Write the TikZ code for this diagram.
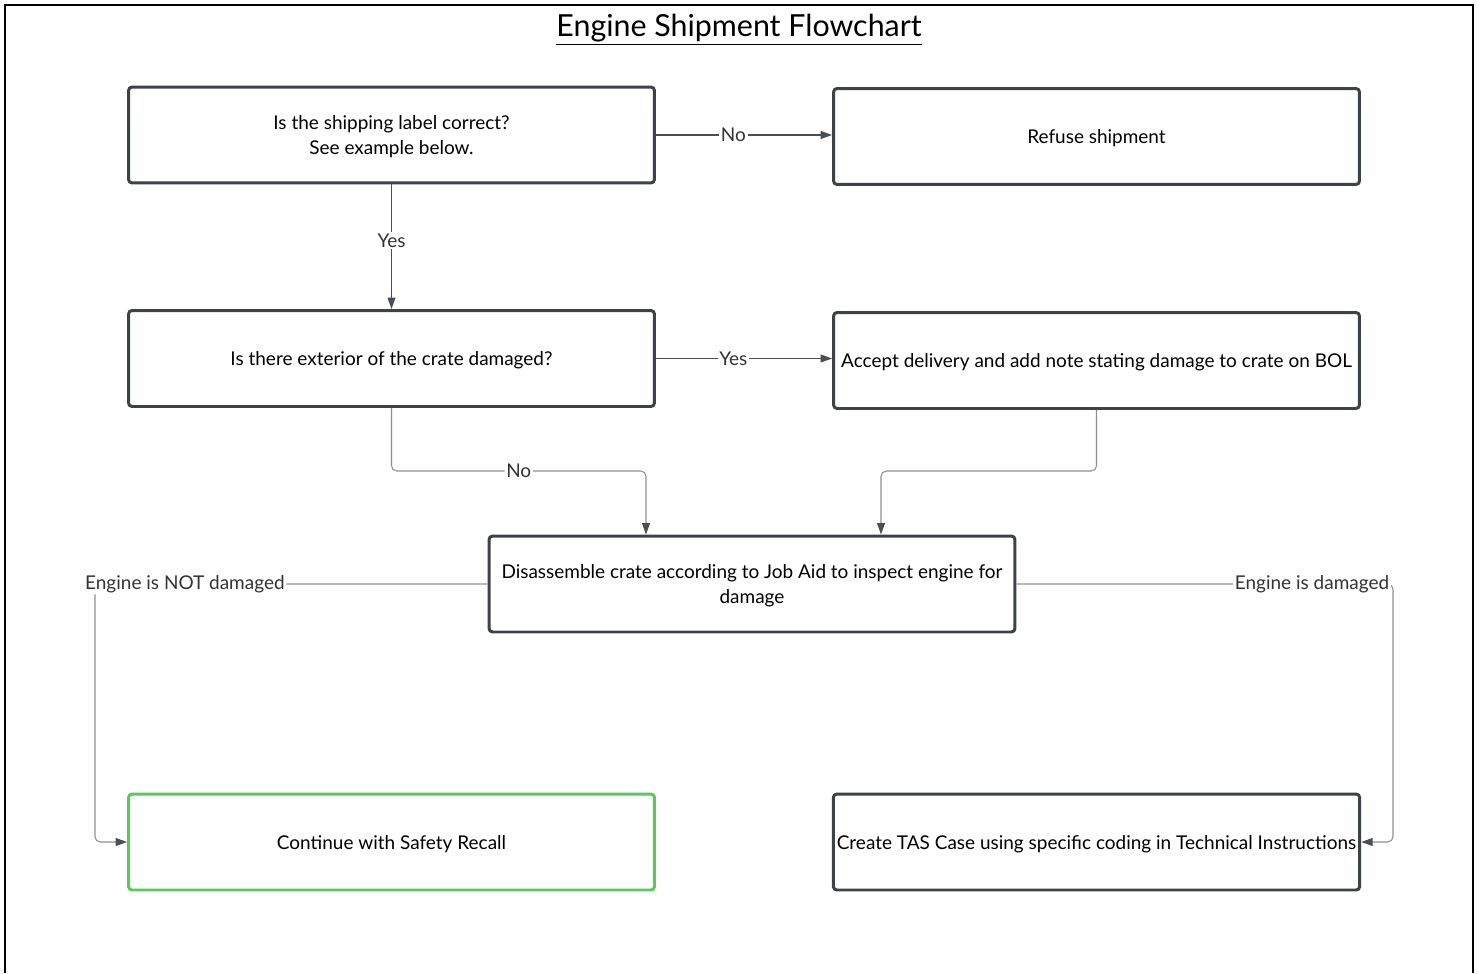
\documentclass[tikz,border=0pt]{standalone}
\usepackage{fontspec}
\setmainfont{Lato}
\usepackage{tikz}
\usetikzlibrary{arrows.meta}

\definecolor{boxline}{HTML}{3D424A}
\definecolor{darkline}{HTML}{4A4F57}
\definecolor{softline}{HTML}{8E9096}
\definecolor{okgreen}{HTML}{5BC85B}

\begin{document}
\begin{tikzpicture}[x=0.02cm, y=-0.02cm,
    box/.style={draw=boxline, line width=1.7pt, rounded corners=2pt, minimum width=10.52cm, minimum height=1.92cm, align=center, font=\fontsize{10.8}{14.2}\selectfont, inner sep=2pt, text depth=-1.5pt},
    link/.style={draw=darkline, line width=0.6pt, -{Triangle[length=6.5pt,width=4.5pt,color=darkline]}},
    softlink/.style={link, draw=softline, rounded corners=3pt},
    tag/.style={fill=white, inner sep=1pt, text=black!80, font=\fontsize{10.8}{12}\selectfont}]
        \useasboundingbox (0,0) rectangle (1479,973);
        \draw[line width=1.2pt] (5,973) -- (5,5) -- (1473,5) -- (1473,973);
        \node[font=\fontsize{17.3}{19}\selectfont] (title) at (739,30) {\underline{Engine Shipment Flowchart}};
        \node[box] (label) at (391.5,135) {Is the shipping label correct?\\See example below.};
        \node[box] (refuse) at (1096.5,136.5) {Refuse shipment};
        \node[box] (crate) at (391.5,358.5) {Is there exterior of the crate damaged?};
        \node[box] (accept) at (1096.5,360.5) {Accept delivery and add note stating damage to crate on BOL};
        \node[box] (open) at (752,584) {Disassemble crate according to Job Aid to inspect engine for\\damage};
        \node[box, draw=okgreen] (recall) at (391.5,842) {Continue with Safety Recall};
        \node[box] (tas) at (1096.5,842) {Create TAS Case using specific coding in Technical Instructions};
        \coordinate (noturn) at (646,471);
        \coordinate (acceptturn) at (881,471);
        \coordinate (leftturn) at (95,584);
        \coordinate (rightturn) at (1393,584);
        \draw[link] (label.east) -- node[tag, pos=0.44] {No} (label.east -| refuse.west);
        \draw[link] (label) -- node[tag, pos=0.45] {Yes} (crate);
        \draw[link] (crate.east) -- node[tag, pos=0.44] {Yes} (crate.east -| accept.west);
        \draw[softlink] (crate.south) |- node[tag, pos=0.75] {No} (noturn) -- (noturn |- open.north);
        \draw[softlink] (accept.south) |- (acceptturn) -- (acceptturn |- open.north);
        \draw[softlink] (open.west) -- node[tag, pos=0.771] {Engine is NOT damaged} (leftturn) |- (recall.west);
        \draw[softlink] (open.east) -- node[tag, pos=0.785] {Engine is damaged} (rightturn) |- (tas.east);
    \end{tikzpicture}
\end{document}
